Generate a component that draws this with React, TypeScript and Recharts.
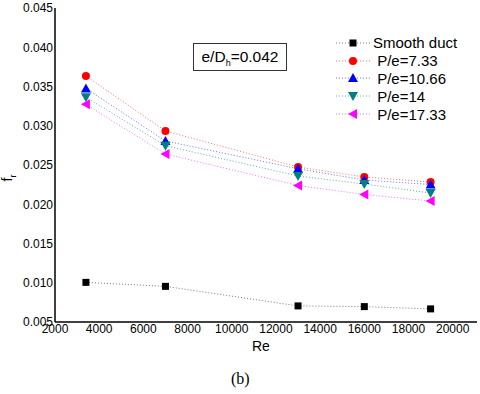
import React from "react";
import { LineChart, Line, XAxis, YAxis } from "recharts";

const reValues = [3400, 7000, 13000, 16000, 19000];
const smoothDuct = [0.01005, 0.00954, 0.00705, 0.00696, 0.00667];
const pe733 = [0.03634, 0.02933, 0.02475, 0.02347, 0.02283];
const pe1066 = [0.03476, 0.02806, 0.02452, 0.02309, 0.02251];
const pe14 = [0.03362, 0.02746, 0.0236, 0.02258, 0.02143];
const pe1733 = [0.03273, 0.0264, 0.02239, 0.02124, 0.02041];

const seriesNames = ["Smooth duct", " P/e=7.33", " P/e=10.66", " P/e=14", " P/e=17.33"];
const seriesValues = [smoothDuct, pe733, pe1066, pe14, pe1733];
const seriesKeys = ["smooth", "p733", "p1066", "p14", "p1733"];

const xTicks = [2000, 4000, 6000, 8000, 10000, 12000, 14000, 16000, 18000, 20000];
const yTicks = [0.005, 0.01, 0.015, 0.02, 0.025, 0.03, 0.035, 0.04, 0.045];
const yMinorTicks = [0.0075, 0.0125, 0.0175, 0.0225, 0.0275, 0.0325, 0.0375, 0.0425];

const styles = [
  { color: "#000000", line: "#777777", marker: "square" },
  { color: "#FF0000", line: "#FF7070", marker: "circle" },
  { color: "#0000FF", line: "#7070FF", marker: "up" },
  { color: "#008080", line: "#60B0B0", marker: "down" },
  { color: "#FF00FF", line: "#FF70FF", marker: "left" },
];

const data = reValues.map((re, i) => {
  const row: any = { re };
  seriesKeys.forEach((k, j) => {
    row[k] = seriesValues[j][i];
  });
  return row;
});

function Marker({ kind, color, cx, cy }: { kind: string; color: string; cx: number; cy: number }) {
  if (kind === "square") {
    return <rect x={cx - 3.5} y={cy - 3.5} width={7} height={7} fill={color} />;
  }
  if (kind === "circle") {
    return <circle cx={cx} cy={cy} r={4} fill={color} />;
  }
  if (kind === "up") {
    return <polygon points={`${cx - 5},${cy + 4} ${cx + 5},${cy + 4} ${cx},${cy - 5}`} fill={color} />;
  }
  if (kind === "down") {
    return <polygon points={`${cx - 5},${cy - 4} ${cx + 5},${cy - 4} ${cx},${cy + 5}`} fill={color} />;
  }
  return <polygon points={`${cx + 4},${cy - 5} ${cx + 4},${cy + 5} ${cx - 5},${cy}`} fill={color} />;
}

const makeDot = (kind: string, color: string) => (props: any) => {
  const { cx, cy, key } = props;
  if (cx == null || cy == null) return <g key={key} />;
  return (
    <g key={key}>
      <Marker kind={kind} color={color} cx={cx} cy={cy} />
    </g>
  );
};

const FONT = "'Liberation Sans', Arial, sans-serif";

function LegendBox() {
  return (
    <div style={{ position: "absolute", left: 335, top: 34, fontFamily: FONT, fontSize: 15, color: "#000" }}>
      {seriesNames.map((name, i) => (
        <div key={name} style={{ display: "flex", alignItems: "center", height: 17.8, whiteSpace: "pre" }}>
          <svg width={38} height={14} style={{ display: "block" }}>
            <line x1={1} y1={7} x2={35} y2={7} stroke={styles[i].line} strokeDasharray="1 2" strokeWidth={1} />
            <Marker kind={styles[i].marker} color={styles[i].color} cx={18} cy={7} />
          </svg>
          <span style={{ lineHeight: "17px" }}>{name}</span>
        </div>
      ))}
    </div>
  );
}

const noTick = () => <g />;

export default function App() {
  return (
    <div style={{ position: "absolute", left: 0, top: 0, width: 480, height: 394, background: "#fff" }}>
      <LineChart
        width={480}
        height={394}
        data={data}
        margin={{ top: 8, right: 3, left: 0, bottom: 48 }}
      >
        <XAxis
          dataKey="re"
          type="number"
          domain={[2000, 21100]}
          ticks={xTicks}
          interval={0}
          allowDataOverflow
          tickLine={false}
          tickSize={0}
          tickMargin={2}
          height={24}
          axisLine={{ stroke: "#000", strokeWidth: 1.5 }}
          tick={{ fill: "#000", fontSize: 12, fontFamily: FONT }}
        />
        <XAxis
          xAxisId="top"
          orientation="top"
          dataKey="re"
          type="number"
          domain={[2000, 21100]}
          height={0}
          tick={false}
          tickLine={false}
          axisLine={{ stroke: "#000", strokeWidth: 1 }}
        />
        <YAxis
          type="number"
          domain={[0.005, 0.045]}
          ticks={yTicks}
          interval={0}
          allowDataOverflow
          width={55}
          tickLine={false}
          tickSize={0}
          tickMargin={2}
          tickFormatter={(v: number) => v.toFixed(3)}
          axisLine={{ stroke: "#000", strokeWidth: 1.5 }}
          tick={{ fill: "#000", fontSize: 12, fontFamily: FONT }}
        />
        <YAxis
          yAxisId="minor"
          type="number"
          domain={[0.005, 0.045]}
          ticks={yMinorTicks}
          interval={0}
          mirror
          width={0}
          axisLine={false}
          tickSize={2}
          tickLine={{ stroke: "#555" }}
          tick={noTick}
        />
        <YAxis
          yAxisId="right"
          orientation="right"
          type="number"
          domain={[0.005, 0.045]}
          width={0}
          tick={false}
          tickLine={false}
          axisLine={{ stroke: "#000", strokeWidth: 1 }}
        />
        {seriesKeys.map((k, i) => (
          <Line
            key={k}
            dataKey={k}
            name={seriesNames[i]}
            type="linear"
            stroke={styles[i].line}
            strokeWidth={1}
            strokeDasharray="1 2"
            dot={makeDot(styles[i].marker, styles[i].color)}
            activeDot={false}
            isAnimationActive={false}
          />
        ))}
      </LineChart>

      <LegendBox />

      <div
        style={{
          position: "absolute",
          left: 193,
          top: 43,
          width: 92,
          height: 26,
          border: "1px solid #333",
          fontFamily: FONT,
          fontSize: 15.5,
          color: "#000",
          lineHeight: "26px",
          textAlign: "center",
        }}
      >
        e/D<sub style={{ fontSize: 9, verticalAlign: "-4px" }}>h</sub>=0.042
      </div>

      <svg width={30} height={40} style={{ position: "absolute", left: 0, top: 158 }}>
        <text transform="rotate(-90, 12, 20)" x={12} y={20} textAnchor="middle" fontFamily={FONT} fontSize={14} fill="#000">
          f<tspan fontSize={9} dy={4}>r</tspan>
        </text>
      </svg>

      <div style={{ position: "absolute", left: 252, top: 338, fontFamily: FONT, fontSize: 14, color: "#000" }}>Re</div>
      <div style={{ position: "absolute", left: 231, top: 370, fontFamily: "'Liberation Serif', 'Times New Roman', serif", fontSize: 16, color: "#000" }}>(b)</div>
    </div>
  );
}
